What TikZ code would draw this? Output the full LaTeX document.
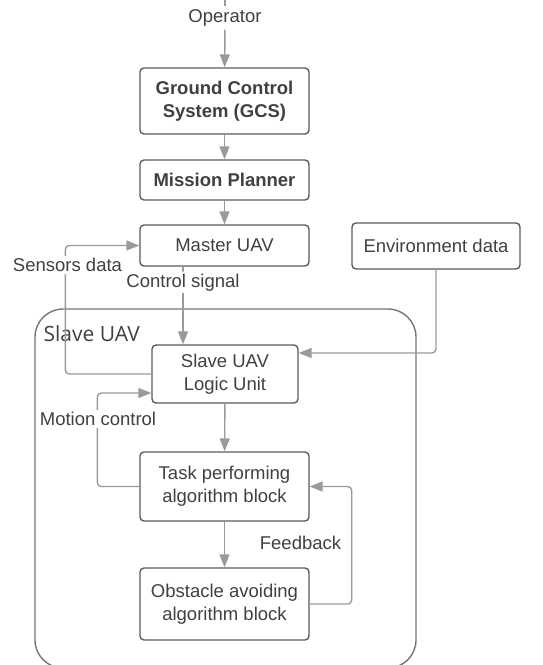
\documentclass[tikz,border=0pt]{standalone}
\usepackage{fontspec}
\setmainfont{Liberation Sans}
\newfontfamily\slavefont{Open Sans}
\usepackage{xcolor}
\usepackage{tikz}
\usetikzlibrary{arrows.meta}

\definecolor{txtgray}{HTML}{404040}
\definecolor{boxgray}{HTML}{5A5A5A}
\definecolor{arrgray}{HTML}{9A9A9A}
\definecolor{framegray}{HTML}{767676}

\begin{document}
\begin{tikzpicture}[x=1pt,y=-1pt,
  every node/.style={text=txtgray,font=\fontsize{18.5}{23}\selectfont},
  block/.style={draw=boxgray,line width=1.4pt,rounded corners=4pt,align=center,inner sep=0pt},
  link/.style={draw=arrgray,line width=1.4pt,rounded corners=4pt},
  arrow/.style={link,-{Triangle[length=13pt,width=10pt]}},
  lbl/.style={fill=white,inner sep=2pt}]
\useasboundingbox (0,0) rectangle (543,665);

% Slave UAV frame
\draw[framegray,line width=1.4pt,rounded corners=28pt] (35,309) rectangle (416,668);
\node[anchor=west,font=\slavefont\fontsize{21}{25}\selectfont] (slavelbl) at (40,334) {Slave UAV};

% Blocks
\node[block,minimum width=169pt,minimum height=66pt,font=\bfseries\fontsize{18.5}{23}\selectfont] (gcs) at (224.5,101) {Ground Control\\System (GCS)};
\node[block,minimum width=169pt,minimum height=40pt,font=\bfseries\fontsize{18.5}{23}\selectfont] (mission) at (224.5,180) {Mission Planner};
\node[block,minimum width=169pt,minimum height=41pt] (master) at (224.5,245.5) {Master UAV};
\node[block,minimum width=168pt,minimum height=46pt] (env) at (436,246) {Environment data};
\node[block,minimum width=146pt,minimum height=58pt] (logic) at (225,374) {Slave UAV\\Logic Unit};
\node[block,minimum width=169pt,minimum height=69pt] (task) at (224.5,486.5) {Task performing\\algorithm block};
\node[block,minimum width=169pt,minimum height=72pt] (obst) at (224.5,604) {Obstacle avoiding\\algorithm block};

% Operator input
\coordinate (optop) at (225,-2);
\node[inner sep=3pt] (oplbl) at (225,18) {Operator};
\draw[link] (optop) -- (oplbl);
\draw[arrow] (oplbl) -- (gcs);

% Main chain
\draw[arrow] (gcs) -- (mission);
\draw[arrow] (mission) -- (master);
\draw[arrow] ([xshift=-41.5pt]master.south) -- node[lbl,pos=0.2] (ctllbl) {Control signal} ([xshift=-41.5pt]master.south |- logic.north);
\draw[arrow] (logic) -- (task);
\draw[arrow] (task) -- (obst);

% Side loops
\draw[arrow] (logic.west) -- ++(-86,0) |- (master.west);
\node[lbl] (senslbl) at (67.5,265) {Sensors data};
\draw[arrow] (env.south) |- ([yshift=21pt]logic.east);
\draw[arrow] (task.west) -- ++(-42,0) |- ([yshift=-19pt]logic.west);
\node[lbl] (motlbl) at (98,419) {Motion control};
\draw[arrow] (obst.east) -- ++(42,0) |- (task.east);
\node (fblbl) at (300.5,543) {Feedback};
\end{tikzpicture}
\end{document}
